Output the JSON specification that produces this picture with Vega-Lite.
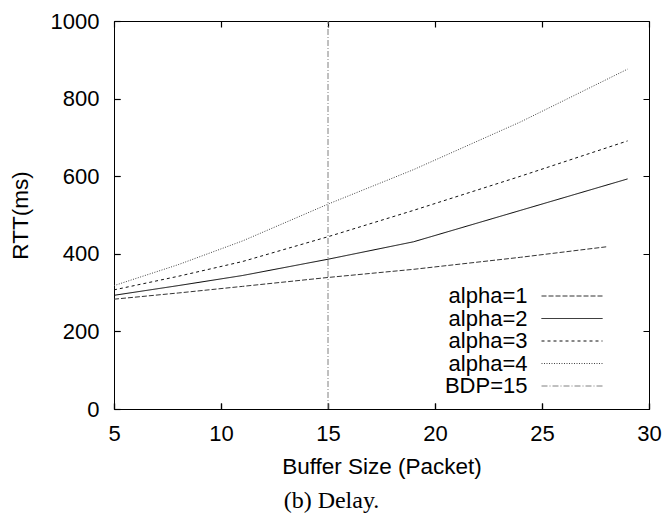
{
  "$schema": "https://vega.github.io/schema/vega-lite/v6.json",
  "width": 535,
  "height": 388,
  "autosize": {"type": "none"},
  "padding": {"left": 114, "top": 21, "right": 14, "bottom": 107},
  "background": "white",
  "datasets": {
    "curves": [
      {"buffer": 5, "rtt": 283, "series": "alpha=1"},
      {"buffer": 8, "rtt": 299, "series": "alpha=1"},
      {"buffer": 11, "rtt": 316, "series": "alpha=1"},
      {"buffer": 15, "rtt": 339, "series": "alpha=1"},
      {"buffer": 19, "rtt": 360, "series": "alpha=1"},
      {"buffer": 24, "rtt": 391, "series": "alpha=1"},
      {"buffer": 28, "rtt": 418, "series": "alpha=1"},
      {"buffer": 5, "rtt": 293, "series": "alpha=2"},
      {"buffer": 8, "rtt": 318, "series": "alpha=2"},
      {"buffer": 11, "rtt": 344, "series": "alpha=2"},
      {"buffer": 15, "rtt": 386, "series": "alpha=2"},
      {"buffer": 19, "rtt": 431, "series": "alpha=2"},
      {"buffer": 24, "rtt": 512, "series": "alpha=2"},
      {"buffer": 29, "rtt": 593, "series": "alpha=2"},
      {"buffer": 5, "rtt": 307, "series": "alpha=3"},
      {"buffer": 8, "rtt": 342, "series": "alpha=3"},
      {"buffer": 11, "rtt": 380, "series": "alpha=3"},
      {"buffer": 15, "rtt": 444, "series": "alpha=3"},
      {"buffer": 19, "rtt": 512, "series": "alpha=3"},
      {"buffer": 24, "rtt": 600, "series": "alpha=3"},
      {"buffer": 29, "rtt": 691, "series": "alpha=3"},
      {"buffer": 5, "rtt": 318, "series": "alpha=4"},
      {"buffer": 8, "rtt": 372, "series": "alpha=4"},
      {"buffer": 11, "rtt": 433, "series": "alpha=4"},
      {"buffer": 15, "rtt": 528, "series": "alpha=4"},
      {"buffer": 19, "rtt": 617, "series": "alpha=4"},
      {"buffer": 24, "rtt": 740, "series": "alpha=4"},
      {"buffer": 29, "rtt": 876, "series": "alpha=4"}
    ],
    "bdp": [
      {"buffer": 15, "low": 0, "high": 1000, "series": "BDP=15"}
    ]
  },
  "title": {
    "text": "(b) Delay.",
    "orient": "bottom",
    "anchor": "middle",
    "font": "Liberation Serif",
    "fontSize": 24,
    "fontWeight": "normal",
    "color": "black",
    "dx": -50,
    "offset": 11
  },
  "config": {
    "view": {"stroke": "black", "strokeWidth": 1},
    "font": "Liberation Sans",
    "axis": {
      "domain": false,
      "labelFont": "Liberation Sans",
      "labelFontSize": 22,
      "labelColor": "black",
      "titleFont": "Liberation Sans",
      "titleFontSize": 22.5,
      "titleFontWeight": "normal",
      "titleColor": "black"
    },
    "legend": {
      "orient": "none",
      "legendX": 447,
      "legendY": 264,
      "symbolType": "M-6.1,0H6.1",
      "symbolSize": 100,
      "symbolStrokeWidth": 1,
      "symbolFillColor": "transparent",
      "labelFont": "Liberation Sans",
      "labelFontSize": 22,
      "labelColor": "black",
      "labelAlign": "right",
      "labelBaseline": "middle",
      "labelOffset": -55.5,
      "labelLimit": 0,
      "rowPadding": 0.5,
      "padding": 0,
      "title": null
    }
  },
  "layer": [
    {
      "data": {"name": "curves"},
      "mark": {"type": "line", "strokeWidth": 1},
      "encoding": {
        "x": {
          "field": "buffer",
          "type": "quantitative",
          "scale": {"domain": [5, 30], "nice": false, "zero": false},
          "axis": {
            "orient": "bottom",
            "title": "Buffer Size (Packet)",
            "values": [5, 10, 15, 20, 25, 30],
            "ticks": true,
            "tickSize": -6,
            "tickWidth": 1.2,
            "tickColor": "#000000",
            "grid": true,
            "gridColor": "#000000",
            "gridOpacity": 1,
            "gridWidth": 1.2,
            "gridDash": [6, 376, 6, 1000],
            "labelPadding": 20,
            "labelFlush": false,
            "labelOverlap": false,
            "titleBaseline": "alphabetic",
            "titleY": 64,
            "titleAnchor": "middle"
          }
        },
        "y": {
          "field": "rtt",
          "type": "quantitative",
          "scale": {"domain": [0, 1000], "nice": false},
          "axis": {
            "orient": "left",
            "title": "RTT(ms)",
            "format": "d",
            "values": [0, 200, 400, 600, 800, 1000],
            "ticks": true,
            "tickSize": -6,
            "tickWidth": 1.2,
            "tickColor": "#000000",
            "grid": true,
            "gridColor": "#000000",
            "gridOpacity": 1,
            "gridWidth": 1.2,
            "gridDash": [6, 523, 6, 1000],
            "labelPadding": 21,
            "labelFlush": false,
            "labelOverlap": false,
            "titleAngle": -90,
            "titleBaseline": "alphabetic",
            "titleAlign": "center",
            "titleX": -87,
            "titleY": 194
          }
        },
        "color": {
          "field": "series",
          "type": "nominal",
          "scale": {
            "domain": ["alpha=1", "alpha=2", "alpha=3", "alpha=4", "BDP=15"],
            "range": ["#333333", "#000000", "#111111", "#444444", "#808080"]
          },
          "legend": {}
        },
        "strokeDash": {
          "field": "series",
          "type": "nominal",
          "scale": {
            "domain": ["alpha=1", "alpha=2", "alpha=3", "alpha=4", "BDP=15"],
            "range": [[5, 2], [1, 0], [3, 3], [1, 1.5], [6, 2, 1, 2]]
          },
          "legend": {}
        }
      }
    },
    {
      "data": {"name": "bdp"},
      "mark": {"type": "rule", "strokeWidth": 1},
      "encoding": {
        "x": {"field": "buffer", "type": "quantitative"},
        "y": {"field": "low", "type": "quantitative"},
        "y2": {"field": "high"},
        "color": {"field": "series", "type": "nominal"},
        "strokeDash": {"field": "series", "type": "nominal"}
      }
    }
  ]
}
